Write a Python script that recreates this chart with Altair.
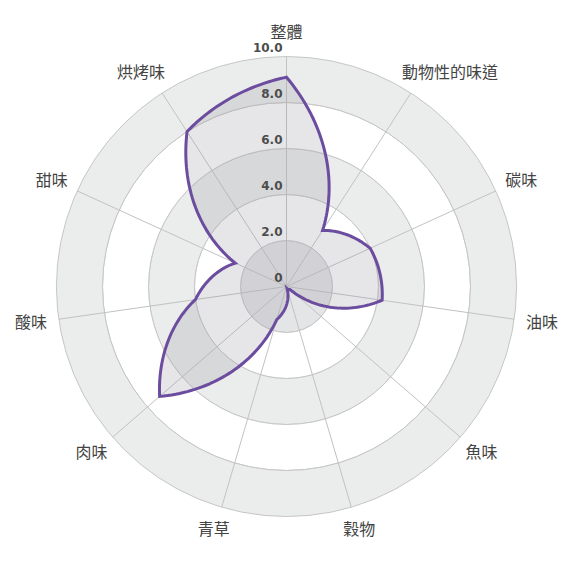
import math
import altair as alt
import pandas as pd

# ---- data ----
categories = ["整體", "動物性的味道", "碳味", "油味", "魚味", "穀物",
              "青草", "肉味", "酸味", "甜味", "烘烤味"]
values = [9.1, 2.9, 4.0, 4.2, 0.2, 0.1, 1.5, 7.3, 4.0, 2.45, 8.0]
ticks = [0, 2, 4, 6, 8, 10]
tick_labels = ["0", "2.0", "4.0", "6.0", "8.0", "10.0"]

# ---- layout ----
W = 557                 # plot area (square)
PX = 23.0               # pixels per unit of value
D = (W / 2) / PX        # half-domain in value units
N = len(categories)
STEP = 2 * math.pi / N
FONT_CJK = "Noto Sans CJK TC"

cat_df = pd.DataFrame({"cat": categories, "value": values, "idx": list(range(N))})
band_df = pd.DataFrame({"inner": ticks[:-1], "outer": ticks[1:]})
tick_df = pd.DataFrame({"v": ticks, "lab": tick_labels})

xs = alt.Scale(domain=[-D, D], nice=False, zero=False)
ys = alt.Scale(domain=[-D, D], nice=False, zero=False)
rs = alt.Scale(type="linear", domain=[0, 10], range=[0, 10 * PX], zero=True)

bands = alt.Chart(band_df).mark_arc(
    theta=0, theta2=2 * math.pi, stroke="#c6c6c6", strokeWidth=1
).transform_calculate(
    shade="datum.inner == 0 ? 'c' : (datum.inner % 4 == 0 ? 'g' : 'w')"
).encode(
    radius=alt.Radius("outer:Q", scale=rs),
    radius2="inner:Q",
    color=alt.Color("shade:N", scale=alt.Scale(domain=["c", "g", "w"],
                                               range=["#e4e5e7", "#ebecec", "#ffffff"]), legend=None),
)

spokes = alt.Chart(cat_df).mark_rule(color="#c2c2c2", strokeWidth=1).transform_calculate(
    ang=f"datum.idx * {STEP}",
    x0="0", y0="0",
    x1=f"10 * sin(datum.ang)", y1=f"10 * cos(datum.ang)",
).encode(
    x=alt.X("x0:Q", scale=xs, axis=None),
    y=alt.Y("y0:Q", scale=ys, axis=None),
    x2="x1:Q", y2="y1:Q",
)

# radar line drawn in polar space (radius varies linearly with angle between spokes)
radar = alt.Chart(cat_df).transform_window(
    nxt="lead(value)", sort=[alt.SortField("idx")], frame=[None, None]
).transform_window(
    first="first_value(value)", sort=[alt.SortField("idx")], frame=[None, None]
).transform_calculate(
    nv="datum.nxt == null ? datum.first : datum.nxt",
    fr="sequence(0, 1, 0.025)",
).transform_flatten(["fr"]).transform_calculate(
    t="datum.idx + datum.fr",
    ang=f"(datum.idx + datum.fr) * {STEP}",
    r="datum.value + (datum.nv - datum.value) * datum.fr",
    px="datum.r * sin(datum.ang)",
    py="datum.r * cos(datum.ang)",
).mark_line(
    interpolate="linear-closed", fill="#9e9ea8", fillOpacity=0.26,
    stroke="#6b4c9e", strokeWidth=3, strokeJoin="miter"
).encode(
    x=alt.X("px:Q", scale=xs, axis=None),
    y=alt.Y("py:Q", scale=ys, axis=None),
    order=alt.Order("t:Q"),
)

tick_text = alt.Chart(tick_df).mark_text(
    align="right", baseline="alphabetic", dx=-4, dy=-5,
    font="DejaVu Sans", fontWeight="bold", fontSize=12, color="#4d4d4d"
).transform_calculate(x0="0").encode(
    x=alt.X("x0:Q", scale=xs, axis=None),
    y=alt.Y("v:Q", scale=ys, axis=None),
    text="lab:N",
)

cat_text = alt.Chart(cat_df).mark_text(
    align="center", baseline="middle", font=FONT_CJK, fontSize=16, color="#444444"
).transform_calculate(
    ang=f"datum.idx * {STEP}",
    lx=f"sin(datum.ang) * (236 + 11.05 * length(datum.cat)) / {PX}",
    ly=f"cos(datum.ang) * 254 / {PX}",
).encode(
    x=alt.X("lx:Q", scale=xs, axis=None),
    y=alt.Y("ly:Q", scale=ys, axis=None),
    text="cat:N",
)

chart = alt.layer(bands, spokes, radar, tick_text, cat_text).properties(
    width=W, height=W, padding=0,
    autosize=alt.AutoSizeParams(type="none"),
).configure_view(stroke=None)

chart.save("out.html", embed_options={"renderer": "svg", "actions": False})
